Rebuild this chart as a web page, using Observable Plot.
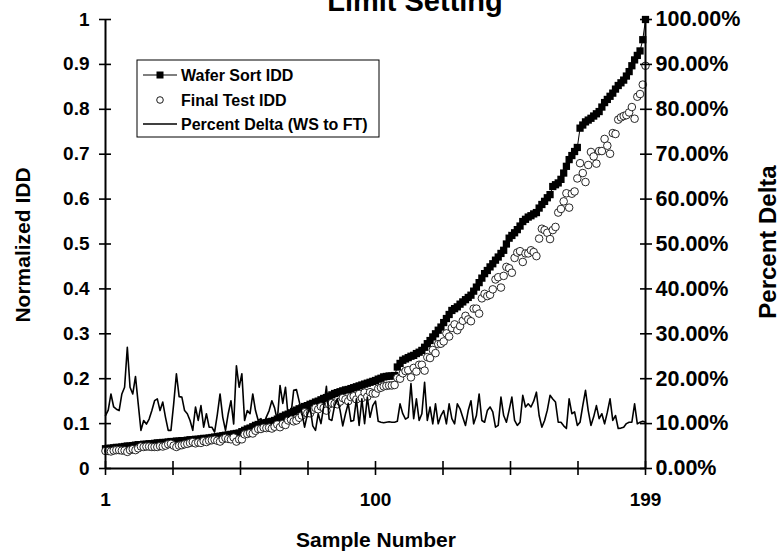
<!DOCTYPE html>
<html><head><meta charset="utf-8">
<script src="https://cdn.jsdelivr.net/npm/d3@7"></script>
<script src="https://cdn.jsdelivr.net/npm/@observablehq/plot@0.6"></script>
<style>
body{margin:0;background:#fff;}
#chart{position:relative;width:780px;height:552px;overflow:hidden;background:#fff;}
</style>
</head><body><div id="chart"></div>
<script>
// Sample numbers (categories 1..199)
const sampleNumber = d3.range(1, 200);

// Wafer Sort IDD (normalized)
const waferSortIDD = [
 0.044,0.045,0.045,0.046,0.047,0.047,0.048,0.049,0.050,0.050,
 0.051,0.052,0.053,0.053,0.054,0.054,0.055,0.055,0.056,0.057,
 0.057,0.058,0.058,0.059,0.060,0.060,0.061,0.061,0.062,0.062,
 0.063,0.064,0.064,0.065,0.065,0.066,0.067,0.067,0.068,0.069,
 0.070,0.071,0.072,0.073,0.074,0.075,0.076,0.077,0.078,0.079,
 0.082,0.085,0.088,0.090,0.093,0.096,0.098,0.099,0.101,0.102,
 0.104,0.105,0.107,0.110,0.113,0.116,0.119,0.121,0.124,0.127,
 0.130,0.133,0.135,0.138,0.140,0.143,0.145,0.148,0.150,0.153,
 0.156,0.158,0.161,0.164,0.167,0.169,0.171,0.173,0.175,0.176,
 0.178,0.180,0.182,0.184,0.186,0.188,0.190,0.192,0.194,0.196,
 0.199,0.201,0.204,0.205,0.206,0.206,0.207,0.226,0.234,0.241,
 0.244,0.247,0.250,0.252,0.256,0.259,0.263,0.270,0.278,0.285,
 0.293,0.300,0.308,0.315,0.325,0.334,0.343,0.352,0.356,0.360,
 0.366,0.371,0.376,0.381,0.386,0.395,0.404,0.414,0.424,0.434,
 0.441,0.449,0.456,0.464,0.471,0.479,0.486,0.500,0.513,0.519,
 0.525,0.532,0.540,0.550,0.555,0.560,0.563,0.567,0.570,0.580,
 0.588,0.595,0.603,0.610,0.628,0.632,0.636,0.644,0.658,0.673,
 0.688,0.697,0.706,0.715,0.758,0.765,0.772,0.776,0.780,0.785,
 0.790,0.795,0.805,0.815,0.822,0.829,0.836,0.845,0.853,0.859,
 0.865,0.874,0.884,0.897,0.910,0.920,0.930,0.955,1.000];

// Final Test IDD (normalized)
const finalTestIDD = [
 0.039,0.039,0.038,0.040,0.041,0.041,0.040,0.040,0.037,0.041,
 0.043,0.041,0.045,0.049,0.048,0.049,0.049,0.048,0.048,0.048,
 0.050,0.049,0.051,0.054,0.055,0.051,0.048,0.051,0.052,0.054,
 0.055,0.057,0.059,0.056,0.058,0.057,0.061,0.059,0.062,0.063,
 0.064,0.062,0.060,0.065,0.068,0.066,0.065,0.069,0.060,0.065,
 0.065,0.076,0.077,0.079,0.078,0.084,0.088,0.088,0.091,0.090,
 0.091,0.089,0.093,0.098,0.092,0.099,0.097,0.107,0.109,0.105,
 0.107,0.113,0.118,0.125,0.123,0.123,0.131,0.135,0.132,0.138,
 0.135,0.129,0.143,0.146,0.144,0.143,0.149,0.157,0.154,0.150,
 0.159,0.161,0.154,0.166,0.157,0.169,0.160,0.170,0.167,0.167,
 0.178,0.180,0.183,0.184,0.185,0.185,0.186,0.202,0.200,0.212,
 0.217,0.219,0.203,0.224,0.216,0.231,0.231,0.218,0.248,0.246,
 0.264,0.257,0.277,0.278,0.283,0.301,0.294,0.313,0.321,0.308,
 0.317,0.329,0.340,0.332,0.328,0.356,0.356,0.345,0.379,0.389,
 0.384,0.387,0.399,0.421,0.426,0.403,0.429,0.449,0.446,0.436,
 0.469,0.481,0.484,0.460,0.479,0.479,0.486,0.482,0.473,0.512,
 0.534,0.531,0.525,0.511,0.531,0.538,0.570,0.578,0.595,0.613,
 0.581,0.612,0.617,0.646,0.680,0.658,0.638,0.676,0.705,0.695,
 0.679,0.707,0.707,0.734,0.719,0.701,0.747,0.745,0.777,0.782,
 0.785,0.787,0.793,0.805,0.779,0.828,0.834,0.855,0.897];

// Percent Delta (WS to FT), in percent
const percentDelta = [
 11.8,13.0,16.6,13.7,13.2,12.9,16.6,18.1,27.0,18.1,
 16.6,20.5,14.4,8.5,10.7,9.9,11.0,12.9,15.1,15.5,
 12.9,14.8,11.4,8.5,8.5,14.4,21.1,16.0,15.9,12.9,
 12.2,10.7,8.5,13.7,10.7,14.0,9.2,12.2,9.2,9.2,
 8.1,12.0,16.6,11.4,8.5,12.2,15.1,9.9,22.9,18.1,
 21.1,10.7,12.9,12.2,16.6,12.9,10.7,11.1,10.0,11.5,
 12.9,15.1,13.5,10.7,18.5,14.5,18.1,11.4,12.0,17.4,
 17.6,15.0,12.5,9.2,12.0,13.7,9.5,8.5,12.2,10.0,
 13.7,18.3,11.0,10.7,14.0,15.5,13.0,9.5,12.2,14.5,
 10.5,10.7,15.5,9.6,15.5,10.0,15.9,11.4,14.0,15.0,
 10.5,10.3,10.2,10.3,10.4,10.3,10.3,10.5,14.4,12.2,
 11.0,11.4,18.9,11.1,15.5,10.7,12.2,19.2,10.7,13.7,
 9.95,14.4,9.95,11.8,12.9,9.95,14.4,11.1,9.95,14.4,
 13.3,11.4,9.6,12.9,15.1,9.95,11.8,16.6,10.7,10.3,
 12.9,13.7,12.6,9.2,9.6,15.9,11.8,10.3,13.0,15.9,
 10.7,9.6,10.3,16.3,13.7,14.4,13.7,15.0,17.0,11.8,
 9.2,10.7,13.0,16.3,15.5,14.8,10.3,10.3,9.5,8.9,
 15.5,12.2,12.6,9.6,10.3,14.0,17.4,12.9,9.6,11.5,
 14.0,11.1,12.2,9.95,12.5,15.5,10.7,11.8,8.9,9.0,
 9.2,10.0,10.3,10.3,14.4,9.95,10.3,10.5,10.3];

// Axis ticks and labels
const yTicks = [0, 0.1, 0.2, 0.3, 0.4, 0.5, 0.6, 0.7, 0.8, 0.9, 1];
const xTickMarks = [1, 25.75, 50.5, 75.25, 100, 124.75, 149.5, 174.25, 199];
const xTickLabels = [1, 100, 199];
const seriesNames = ["Wafer Sort IDD", "Final Test IDD", "Percent Delta (WS to FT)"];

const data = sampleNumber.map((n, k) => ({
  n, ws: waferSortIDD[k], ft: finalTestIDD[k], pd: percentDelta[k] / 100
}));

const font = "'Liberation Sans', Arial, Helvetica, sans-serif";

const plot = Plot.plot({
  width: 780, height: 552,
  marginLeft: 105, marginRight: 135, marginTop: 19, marginBottom: 84,
  style: {fontFamily: font, fontWeight: "bold", color: "black", background: "white", overflow: "visible"},
  x: {domain: [1, 199]},
  y: {domain: [0, 1]},
  marks: [
    Plot.line(data, {x: "n", y: "ws", stroke: "black", strokeWidth: 1}),
    Plot.dot(data, {x: "n", y: "ws", symbol: "square", fill: "black", r: 4.1}),
    Plot.dot(data, {x: "n", y: "ft", r: 3.8, fill: "white", stroke: "#111", strokeWidth: 0.9}),
    Plot.line(data, {x: "n", y: "pd", stroke: "black", strokeWidth: 1.6}),
    Plot.ruleX([1], {stroke: "black", strokeWidth: 2}),
    Plot.ruleX([199], {stroke: "black", strokeWidth: 2}),
    Plot.ruleY([0], {stroke: "black", strokeWidth: 2}),
    Plot.axisY(yTicks, {anchor: "left", tickSize: 12, dx: 6, strokeWidth: 1.6, tickFormat: () => "", label: null}),
    Plot.axisY(yTicks, {anchor: "right", tickSize: 12, dx: -6, strokeWidth: 1.6, tickFormat: () => "", label: null}),
    Plot.axisX(xTickMarks, {anchor: "bottom", tickSize: 14, dy: -7, strokeWidth: 1.6, tickFormat: () => "", label: null}),
    Plot.axisY(yTicks, {anchor: "left", tickSize: 0, tickPadding: 16, fontSize: 19,
      tickFormat: d => (d === 0 || d === 1) ? String(d) : d.toFixed(1), label: null}),
    Plot.axisY(yTicks, {anchor: "right", tickSize: 0, tickPadding: 10, fontSize: 21.5,
      tickFormat: d => (d * 100).toFixed(2) + "%", label: null}),
    Plot.axisX(xTickLabels, {anchor: "bottom", tickSize: 0, tickPadding: 24, fontSize: 19, label: null})
  ]
});

document.getElementById("chart").appendChild(plot);

const svg = d3.select(plot);
svg.append("text").attr("x", 415).attr("y", 11).attr("text-anchor", "middle")
  .style("font-size", "29px").style("font-weight", "bold").text("Limit Setting");
svg.append("text").attr("transform", "translate(22,245) rotate(-90)").attr("text-anchor", "middle")
  .attr("dominant-baseline", "central").style("font-size", "21px").text("Normalized IDD");
svg.append("text").attr("transform", "translate(767,242) rotate(-90)").attr("text-anchor", "middle")
  .attr("dominant-baseline", "central").style("font-size", "24px").text("Percent Delta");
svg.append("text").attr("x", 376).attr("y", 547).attr("text-anchor", "middle")
  .style("font-size", "21px").text("Sample Number");

// Legend
const lg = svg.append("g").style("font-size", "16px").style("font-weight", "bold");
lg.append("rect").attr("x", 137).attr("y", 60).attr("width", 242).attr("height", 77)
  .attr("fill", "white").attr("stroke", "black").attr("stroke-width", 1);
const rows = [75, 100, 124];
lg.append("line").attr("x1", 143).attr("x2", 177).attr("y1", rows[0]).attr("y2", rows[0]).attr("stroke", "black").attr("stroke-width", 1.2);
lg.append("rect").attr("x", 156.5).attr("y", rows[0] - 3.5).attr("width", 7).attr("height", 7).attr("fill", "black");
lg.append("circle").attr("cx", 160).attr("cy", rows[1]).attr("r", 3.3).attr("fill", "white").attr("stroke", "black").attr("stroke-width", 0.9);
lg.append("line").attr("x1", 143).attr("x2", 177).attr("y1", rows[2]).attr("y2", rows[2]).attr("stroke", "black").attr("stroke-width", 1.5);
seriesNames.forEach((s, k) => {
  lg.append("text").attr("x", 181).attr("y", rows[k]).attr("text-anchor", "start")
    .attr("dominant-baseline", "central").text(s);
});
</script>
</body></html>
